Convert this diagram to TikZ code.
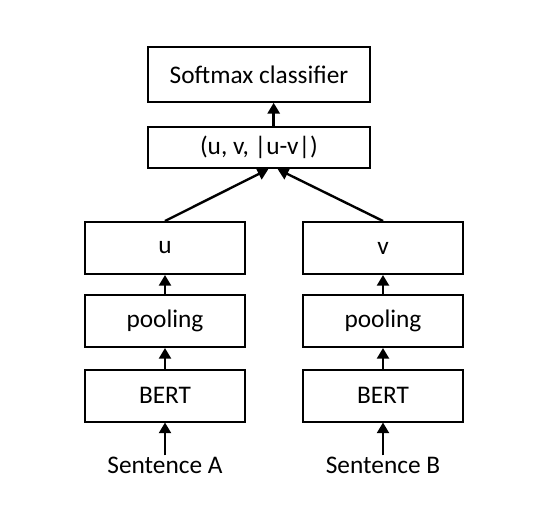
\documentclass[tikz,border=0pt]{standalone}
\usepackage{fontspec}
\setmainfont{Carlito}
\usetikzlibrary{arrows.meta}
\begin{document}
\begin{tikzpicture}[x=0.75pt,y=-0.75pt,
  box/.style={draw=black,line width=1.5pt,minimum width=120pt,minimum height=39pt,inner sep=0pt,font=\fontsize{19pt}{22pt}\selectfont},
  wbox/.style={box,minimum width=166.5pt,minimum height=41pt},
  cbox/.style={box,minimum width=166.5pt,minimum height=31pt},
  lbl/.style={inner sep=0pt,font=\fontsize{19pt}{22pt}\selectfont},
  arr/.style={line width=1.8pt,-{Triangle[width=9pt,length=8pt]}}]
\useasboundingbox (0,0) rectangle (556,512);
\node[wbox] (soft) at (259,74.5) {Softmax classifier};
\node[cbox] (comb) at (259,147.5) {(u, v, |u-v|)};
\node[box] (u) at (165,248) {u};
\node[box] (pa) at (165,321) {pooling};
\node[box] (ba) at (165,395.5) {BERT};
\node[box] (v) at (383,248) {v};
\node[box] (pb) at (383,321) {pooling};
\node[box] (bb) at (383,395.5) {BERT};
\node[lbl] (sa) at (165,465) {Sentence A};
\node[lbl] (sb) at (383,465) {Sentence B};
\draw[arr] (sa.north) ++(0,-1) -- (ba.south);
\draw[arr] (sb.north) ++(0,-1) -- (bb.south);
\draw[arr] (ba.north) -- (pa.south);
\draw[arr] (bb.north) -- (pb.south);
\draw[arr] (pa.north) -- (u.south);
\draw[arr] (pb.north) -- (v.south);
\draw[arr] (u.north) -- ([xshift=7pt]comb.south);
\draw[arr] (v.north) -- ([xshift=14pt]comb.south);
\draw[arr] ([xshift=11pt]comb.north) -- ([xshift=11pt]soft.south);
\end{tikzpicture}
\end{document}
